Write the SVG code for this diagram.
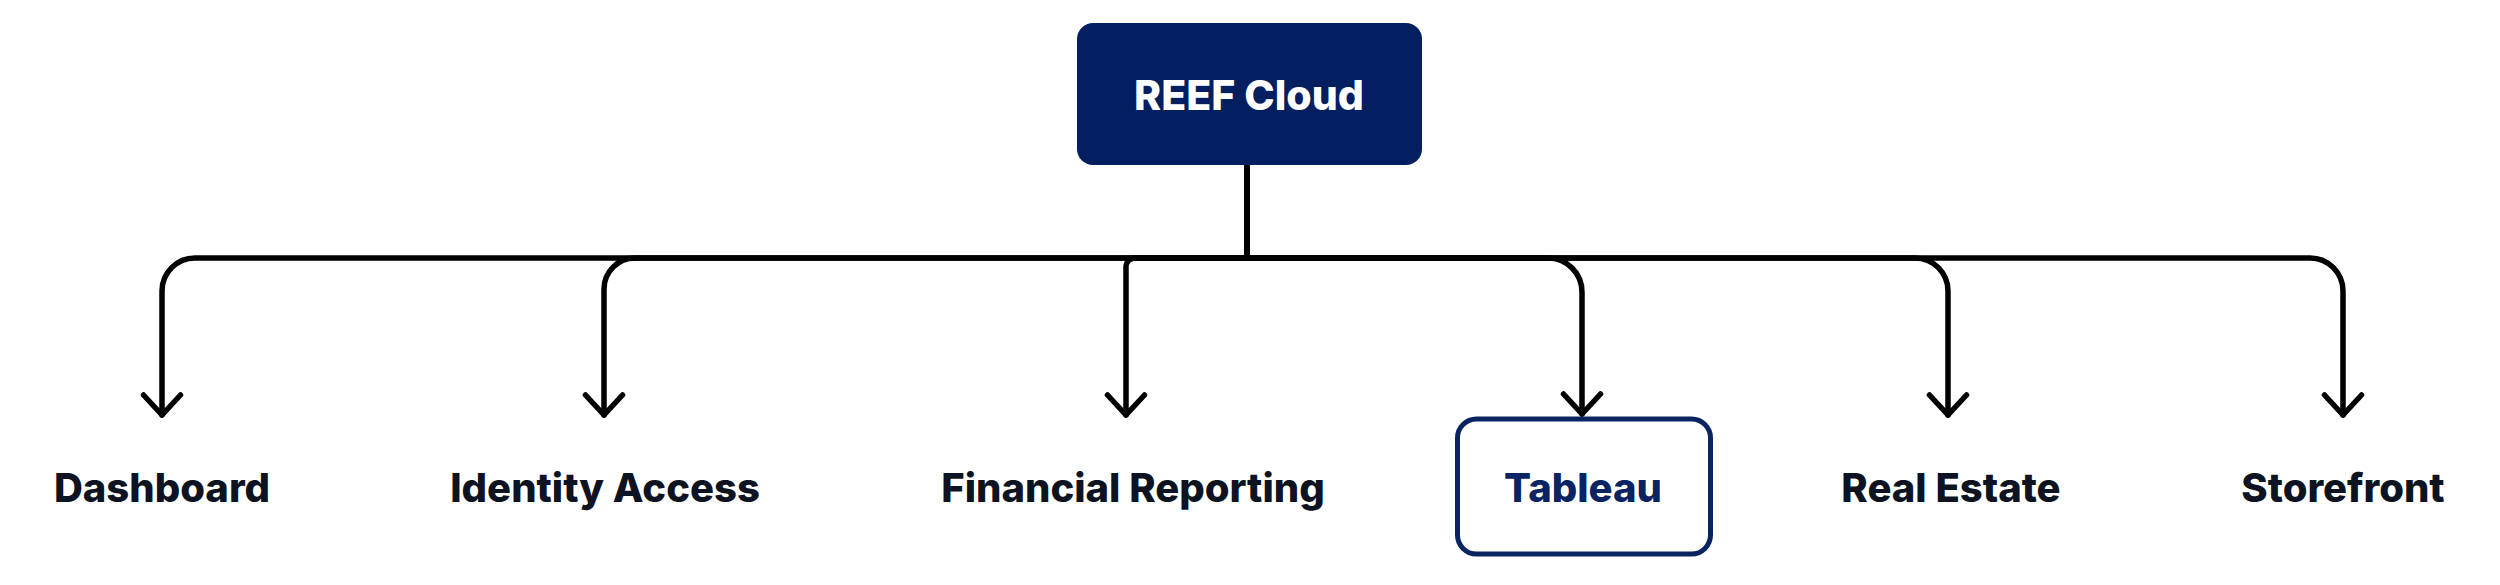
<svg xmlns="http://www.w3.org/2000/svg" width="2500" height="585" viewBox="0 0 2500 585">
<defs>
<style>
.lbl{font-family:Inter,"Liberation Sans",sans-serif;font-weight:800;font-size:40px;fill:#0d1321;text-anchor:middle}
.conn{fill:none;stroke:#000;stroke-width:5.5;stroke-linejoin:round;stroke-linecap:round}
</style>
<marker id="arr" markerUnits="userSpaceOnUse" viewBox="-26 -24 30 48" markerWidth="30" markerHeight="48" refX="0" refY="0" orient="auto">
<path d="M-20,-18.5 L0,0 L-20,18.5" fill="none" stroke="#000" stroke-width="5.5" stroke-linecap="round" stroke-linejoin="round"/>
</marker>
</defs>
<rect width="2500" height="585" fill="#fff"/>
<g id="connectors">
<path class="conn" marker-end="url(#arr)" d="M1247,165 V258 H195 A33,33 0 0 0 162,291 V415"/>
<path class="conn" marker-end="url(#arr)" d="M1247,165 V258 H635 A31,31 0 0 0 604,289 V415"/>
<path class="conn" marker-end="url(#arr)" d="M1247,165 V258 H1135 A9,9 0 0 0 1126,267 V415"/>
<path class="conn" marker-end="url(#arr)" d="M1247,165 V258 H1548 A34,34 0 0 1 1582,292 V414"/>
<path class="conn" marker-end="url(#arr)" d="M1247,165 V258 H1915 A33,33 0 0 1 1948,291 V415"/>
<path class="conn" marker-end="url(#arr)" d="M1247,165 V258 H2310 A33,33 0 0 1 2343,291 V415"/>
</g>
<g id="reef-cloud">
<rect x="1077" y="23" width="345" height="142" rx="16" fill="#031f60"/>
<text x="1249" y="110" class="lbl" style="fill:#fff;font-size:41px">REEF Cloud</text>
</g>
<g id="dashboard"><text x="162" y="502" class="lbl">Dashboard</text></g>
<g id="identity-access"><text x="605" y="502" class="lbl">Identity Access</text></g>
<g id="financial-reporting"><text x="1133" y="502" class="lbl">Financial Reporting</text></g>
<g id="tableau">
<rect x="1457.5" y="419" width="253" height="135" rx="19" fill="#fff" stroke="#0a2463" stroke-width="5"/>
<text x="1583" y="502" class="lbl" style="fill:#0a2463">Tableau</text>
</g>
<g id="real-estate"><text x="1951" y="502" class="lbl">Real Estate</text></g>
<g id="storefront"><text x="2343" y="502" class="lbl">Storefront</text></g>
</svg>
